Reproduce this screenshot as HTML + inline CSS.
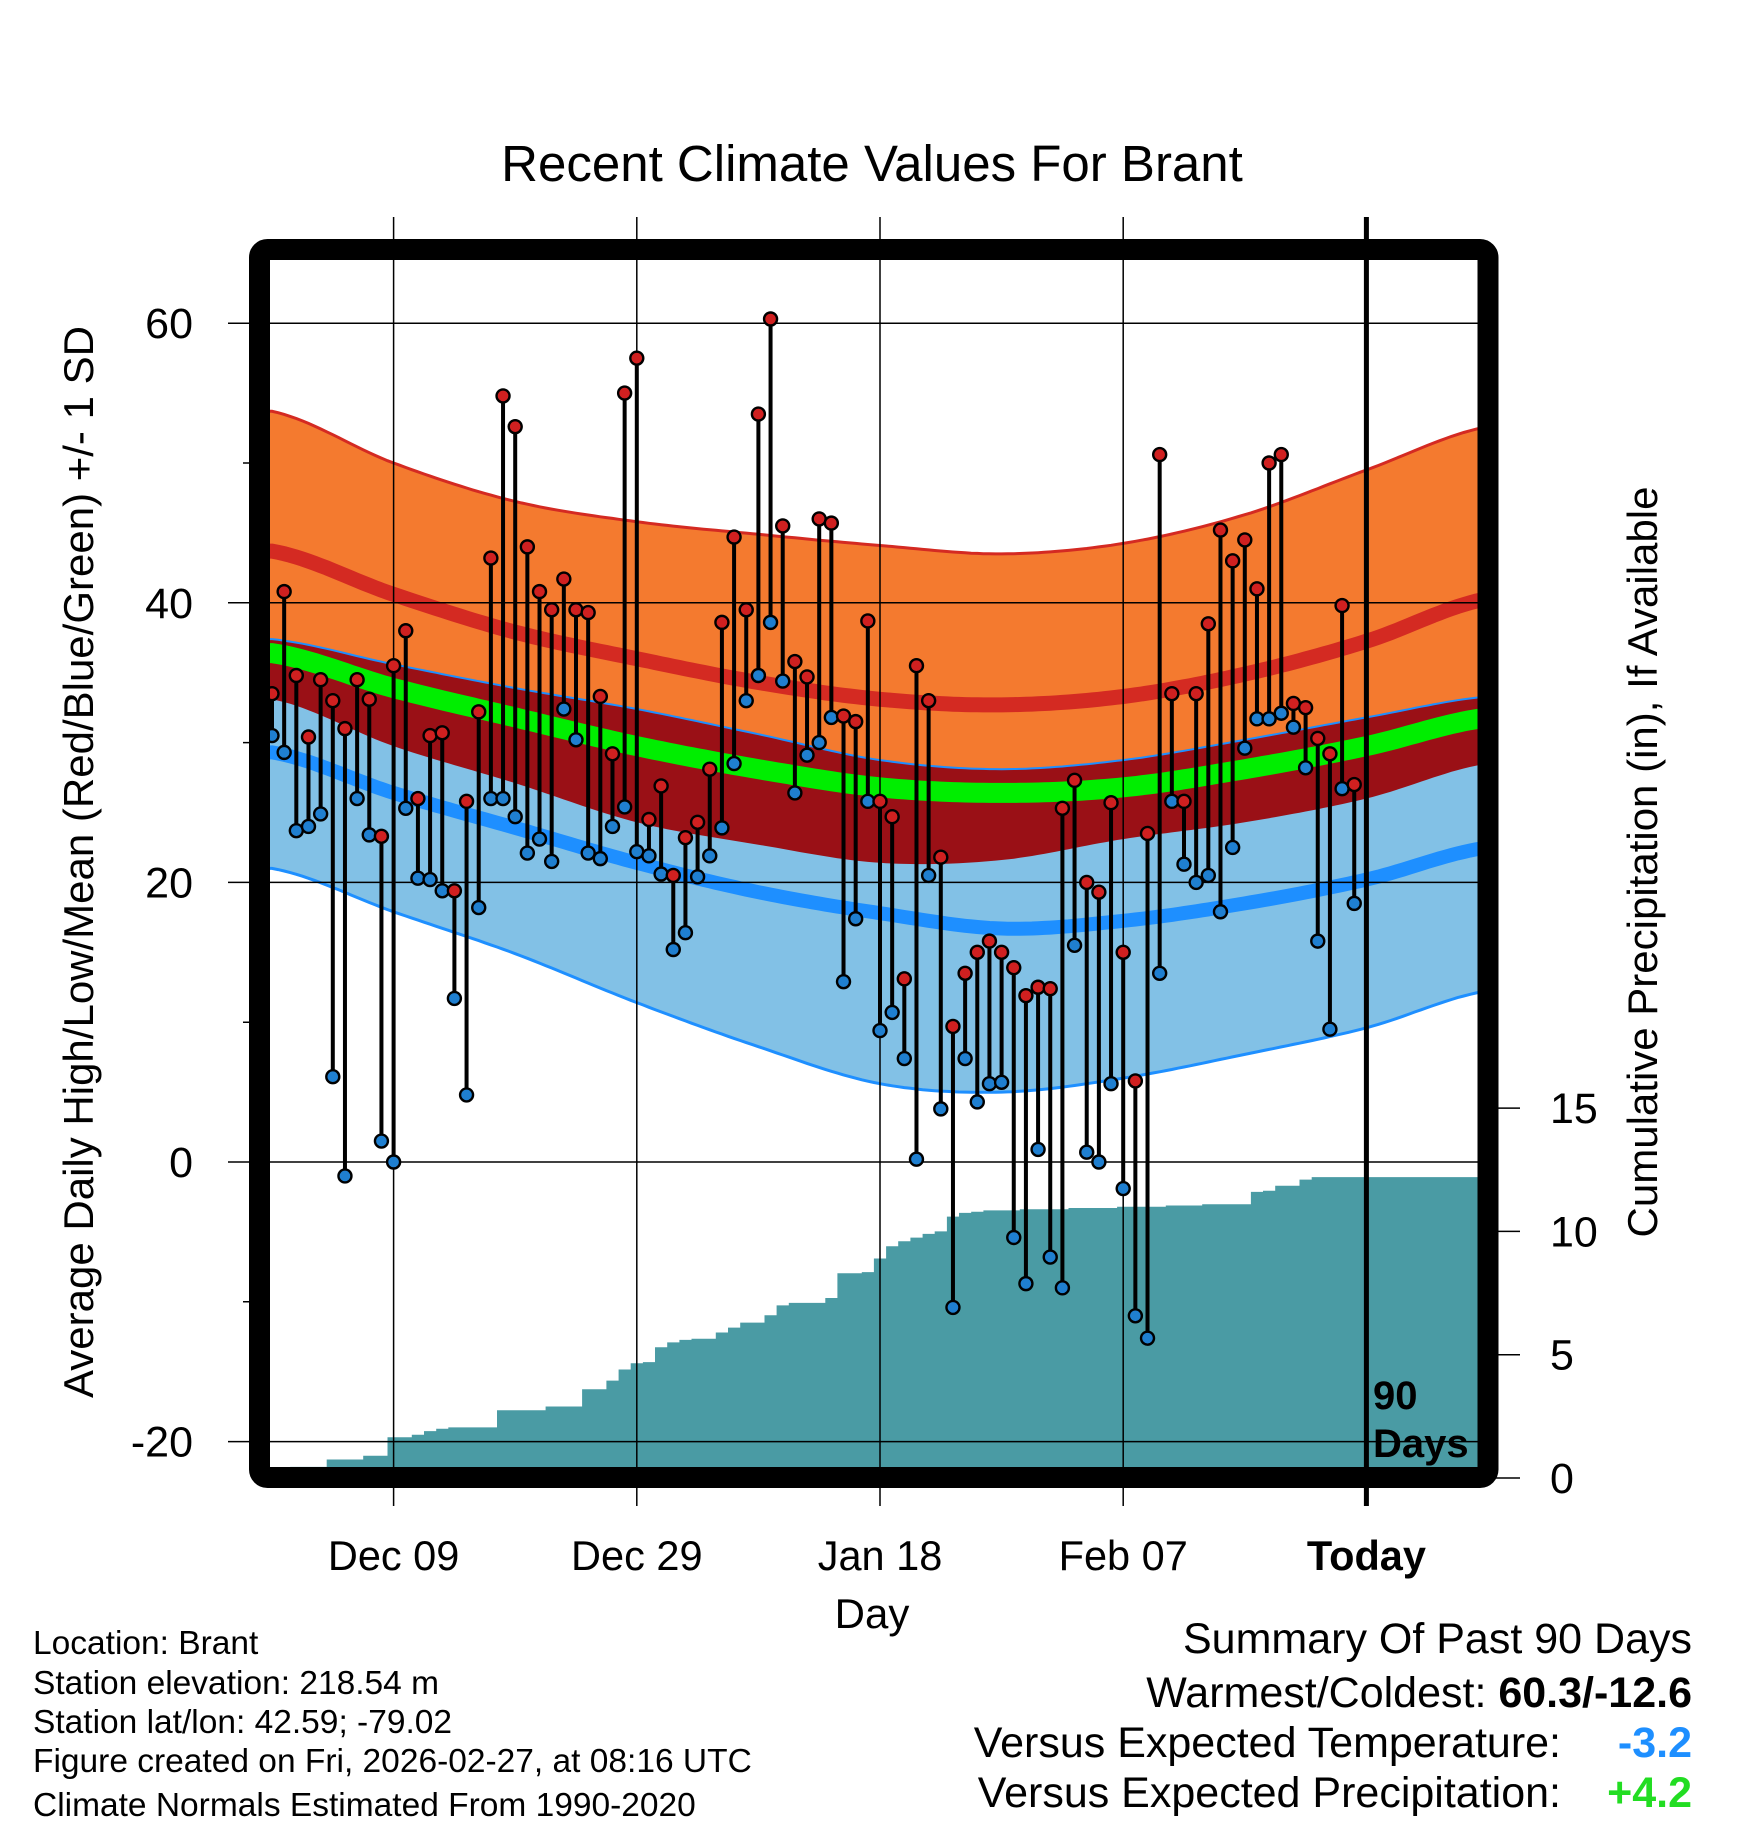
<!DOCTYPE html>
<html><head><meta charset="utf-8"><style>
html,body{margin:0;padding:0;background:#fff;}
svg{display:block;font-family:"Liberation Sans",Arial,sans-serif;}
</style></head><body>
<svg id="chart" xmlns="http://www.w3.org/2000/svg" width="1748" height="1828" viewBox="0 0 1748 1828">
<defs><clipPath id="plotclip"><rect x="270" y="260" width="1208" height="1207"/></clipPath></defs>
<text x="872" y="181" font-size="51" text-anchor="middle">Recent Climate Values For Brant</text>
<g id="plot" clip-path="url(#plotclip)"></g>
<g id="grid"></g>
<g id="marks"></g>
<rect x="259.5" y="249.5" width="1228.5" height="1228" rx="8" fill="none" stroke="#000" stroke-width="21"/>
<g id="axes"></g>
<text transform="translate(93,862) rotate(-90)" font-size="42" text-anchor="middle">Average Daily High/Low/Mean (Red/Blue/Green) +/- 1 SD</text>
<text transform="translate(1657,862) rotate(-90)" font-size="42" text-anchor="middle">Cumulative Precipitation (in), If Available</text>
<text x="872" y="1628" font-size="42" text-anchor="middle">Day</text>
<text x="1373" y="1409" font-size="40" font-weight="bold">90</text>
<text x="1373" y="1457" font-size="40" font-weight="bold">Days</text>
<g font-size="33.5">
<text x="33" y="1654">Location: Brant</text>
<text x="33" y="1694">Station elevation: 218.54 m</text>
<text x="33" y="1733">Station lat/lon: 42.59; -79.02</text>
<text x="33" y="1772">Figure created on Fri, 2026-02-27, at 08:16 UTC</text>
<text x="33" y="1816">Climate Normals Estimated From 1990-2020</text>
</g>
<g font-size="43" text-anchor="end">
<text x="1692" y="1653">Summary Of Past 90 Days</text>
<text x="1692" y="1707">Warmest/Coldest: <tspan font-weight="bold">60.3/-12.6</tspan></text>
<text x="1561" y="1757">Versus Expected Temperature:</text>
<text x="1692" y="1757" fill="#1e8fff" font-weight="bold">-3.2</text>
<text x="1561" y="1807">Versus Expected Precipitation:</text>
<text x="1692" y="1807" fill="#22dd22" font-weight="bold">+4.2</text>
</g>
</svg>
<script>
const normDays=[0,10,20,30,40,50,60,70,80,90,100];
const hiTop=[53.7,50,47.25,45.8,44.9,44.1,43.5,44.25,46.3,49.5,52.6];
const hiMean=[43.7,40.6,37.9,36,34.3,33.1,32.7,33.3,34.9,37.25,40.3];
const hiBottom=[33.1,29.75,27.1,24.3,22.7,21.4,21.6,23.1,24.3,26,28.5];
const loTop=[37.4,35.6,33.9,32.4,30.6,28.75,28.1,28.75,30.2,31.8,33.3];
const meanLine=[36.4,33.9,31.8,29.75,28.1,26.8,26.4,26.8,28.1,29.75,31.8];
const loMean=[29.3,26.4,23.9,21.4,19.3,17.8,16.7,17.25,18.5,20.2,22.5];
const loBottom=[21,17.9,14.9,11.4,8.25,5.6,5,6,7.7,9.6,12.25];
const highs=[33.5,40.8,34.8,30.4,34.5,33,31,34.5,33.1,23.3,35.5,38,26,30.5,30.7,19.4,25.8,32.2,43.2,54.8,52.6,44,40.8,39.5,41.7,39.5,39.3,33.3,29.2,55,57.5,24.5,26.9,20.5,23.2,24.3,28.1,38.6,44.7,39.5,53.5,60.3,45.5,35.8,34.7,46,45.7,31.9,31.5,38.7,25.8,24.7,13.1,35.5,33,21.8,9.7,13.5,15,15.8,15,13.9,11.9,12.5,12.4,25.3,27.3,20,19.3,25.7,15,5.8,23.5,50.6,33.5,25.8,33.5,38.5,45.2,43,44.5,41,50,50.6,32.8,32.5,30.3,29.2,39.8,27];
const lows=[30.5,29.3,23.7,24,24.9,6.1,-1,26,23.4,1.5,0,25.3,20.3,20.2,19.4,11.7,4.8,18.2,26,26,24.7,22.1,23.1,21.5,32.4,30.2,22.1,21.7,24,25.4,22.2,21.9,20.6,15.2,16.4,20.4,21.9,23.9,28.5,33,34.8,38.6,34.4,26.4,29.1,30,31.8,12.9,17.4,25.8,9.4,10.7,7.4,0.2,20.5,3.8,-10.4,7.4,4.3,5.6,5.7,-5.4,-8.7,0.9,-6.8,-9,15.5,0.7,0,5.6,-1.9,-11,-12.6,13.5,25.8,21.3,20,20.5,17.9,22.5,29.6,31.7,31.7,32.1,31.1,28.2,15.8,9.5,26.7,18.5];
const precipCum=[0,0,0.45,0.45,0.45,0.75,0.75,0.75,0.9,0.9,1.65,1.65,1.75,1.9,2.0,2.05,2.05,2.05,2.05,2.75,2.75,2.75,2.75,2.9,2.9,2.9,3.6,3.6,3.95,4.4,4.65,4.7,5.3,5.5,5.6,5.65,5.65,5.9,6.1,6.3,6.3,6.6,7.0,7.1,7.1,7.1,7.3,8.3,8.3,8.35,8.9,9.4,9.6,9.75,9.9,10.0,10.6,10.75,10.8,10.85,10.85,10.85,10.9,10.9,10.9,10.9,10.95,10.95,10.95,10.95,11.0,11.0,11.0,11.0,11.05,11.05,11.05,11.1,11.1,11.1,11.1,11.6,11.65,11.85,11.85,12.1,12.2,12.2,12.2,12.2];
const yTicks=[60,40,20,0,-20];
const yMinor=[50,30,10,-10];
const pTicks=[0,5,10,15];
const xTickDays=[10,30,50,70,90];
const xTickLabels=["Dec 09","Dec 29","Jan 18","Feb 07","Today"];

const NS="http://www.w3.org/2000/svg";
const X=d=>272+12.16*d;
const Y=v=>1162-13.98*v;
const YP=p=>1478-24.66*p;
function mk(tag,attrs,parent){const e=document.createElementNS(NS,tag);for(const k in attrs)e.setAttribute(k,attrs[k]);parent.appendChild(e);return e;}
function interp(arr,d){
  const h=10;let i=Math.floor(d/h);if(i<0)i=0;if(i>arr.length-2)i=arr.length-2;
  const t=(d-i*h)/h;const p0=arr[Math.max(i-1,0)],p1=arr[i],p2=arr[i+1],p3=arr[Math.min(i+2,arr.length-1)];
  return 0.5*((2*p1)+(-p0+p2)*t+(2*p0-5*p1+4*p2-p3)*t*t+(-p0+3*p1-3*p2+p3)*t*t*t);
}
function linePts(arr){const pts=[];for(let d=-1;d<=101;d+=0.5)pts.push(X(d).toFixed(1)+","+Y(interp(arr,Math.max(0,Math.min(100,d)))).toFixed(1));return pts;}
function band(a,b){const top=linePts(a),bot=linePts(b).reverse();return "M"+top.join("L")+"L"+bot.join("L")+"Z";}
const plot=document.getElementById('plot'),grid=document.getElementById('grid'),marks=document.getElementById('marks'),axes=document.getElementById('axes');

let e;
e=mk('path',{d:band(hiTop,hiBottom),fill:'#f47a2f'},plot);


e=mk('path',{d:band(loTop,loBottom),fill:'#82c1e6'},plot);


e=mk('path',{d:band(loTop,hiBottom),fill:'#9a1016'},plot);


e=mk('path',{d:"M"+linePts(hiTop).join("L"),fill:'none',stroke:'#d42a22',"stroke-width":3},plot);


e=mk('path',{d:"M"+linePts(loTop).join("L"),fill:'none',stroke:'#1e8fff',"stroke-width":2},plot);


e=mk('path',{d:"M"+linePts(loBottom).join("L"),fill:'none',stroke:'#1e8fff',"stroke-width":3},plot);


e=mk('path',{d:"M"+linePts(hiMean).join("L"),fill:'none',stroke:'#d42a22',"stroke-width":15},plot);


e=mk('path',{d:"M"+linePts(loMean).join("L"),fill:'none',stroke:'#1e8fff',"stroke-width":14},plot);


e=mk('path',{d:"M"+linePts(meanLine).join("L"),fill:'none',stroke:'#00ee00',"stroke-width":20},plot);



// precipitation step area
let pd="M"+X(-1)+","+YP(0);
precipCum.forEach((p,i)=>{pd+="L"+(X(i)-6.08).toFixed(1)+","+YP(p).toFixed(1)+"L"+(X(i)+6.08).toFixed(1)+","+YP(p).toFixed(1);});
pd+="L"+X(101)+","+YP(precipCum[precipCum.length-1]).toFixed(1)+"L"+X(101)+","+YP(0)+"Z";
e=mk('path',{d:pd,fill:'#4a9ba4'},plot);



yTicks.forEach(v=>{
  e=mk('line',{x1:228,x2:1478,y1:Y(v),y2:Y(v),stroke:'#000','stroke-width':1.5},grid);
  
  
  e=mk('text',{x:193,y:Y(v)+15,'font-size':43,'text-anchor':'end'},axes);
  e.textContent=String(v);
  
  
});
yMinor.forEach(v=>{
  e=mk('line',{x1:243,x2:260,y1:Y(v),y2:Y(v),stroke:'#000','stroke-width':1.5},axes);
  
  
});
pTicks.forEach(p=>{
  e=mk('line',{x1:1488,x2:1520,y1:YP(p),y2:YP(p),stroke:'#000','stroke-width':1.5},axes);
  
  
  e=mk('text',{x:1550,y:YP(p)+15,'font-size':43},axes);
  e.textContent=String(p);
  
  
});
xTickDays.forEach((d,i)=>{
  const today=xTickLabels[i]==="Today";
  e=mk('line',{x1:X(d),x2:X(d),y1:217,y2:1506,stroke:'#000','stroke-width':today?5:1.5},grid);
  
  
  e=mk('text',{x:X(d),y:1570,'font-size':41.5,'text-anchor':'middle','font-weight':today?'bold':'normal'},axes);
  e.textContent=xTickLabels[i];
  
  
});

highs.forEach((h,i)=>{
  e=mk('line',{x1:X(i),x2:X(i),y1:Y(h),y2:Y(lows[i]),stroke:'#000','stroke-width':4},marks);
  
  
});
highs.forEach((h,i)=>{
  e=mk('circle',{cx:X(i),cy:Y(h),r:6.5,fill:'#d02020',stroke:'#000','stroke-width':2.4},marks);
  
  
  e=mk('circle',{cx:X(i),cy:Y(lows[i]),r:6.5,fill:'#1f7fd0',stroke:'#000','stroke-width':2.4},marks);
  
  
});
</script>
</body></html>
